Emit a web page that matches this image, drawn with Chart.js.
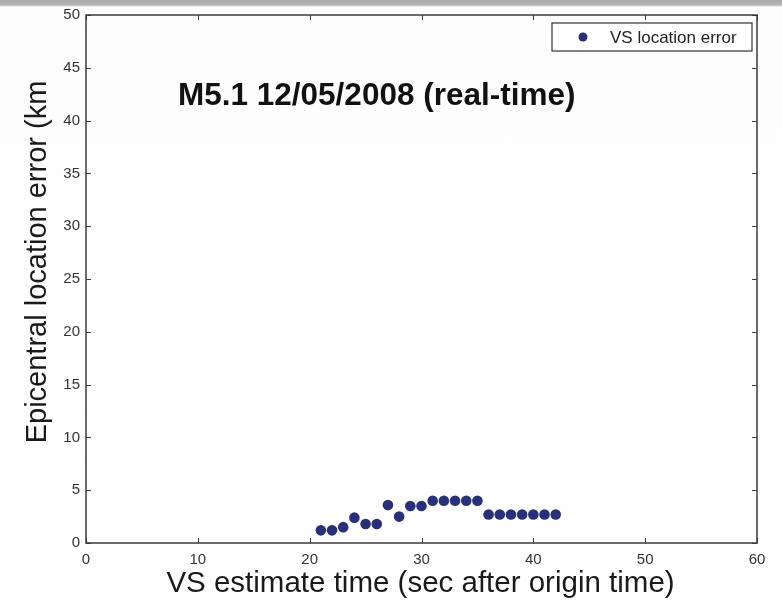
<!DOCTYPE html>
<html><head><meta charset="utf-8">
<script src="https://cdn.jsdelivr.net/npm/chart.js@4.4.1/dist/chart.umd.min.js"></script>
<style>
html,body{margin:0;padding:0;}
body{width:782px;height:604px;background:linear-gradient(to bottom,#a9a9a9 0px,#b4b4b4 5px,#fdfdfd 7px,#ffffff 100%);}
#wrap{width:782px;height:604px;position:relative;}
</style></head>
<body><div id="wrap"><canvas id="c" width="782" height="604"></canvas></div>
<script>
const estimateTimes = [21,22,23,24,25,26,27,28,29,30,31,32,33,34,35,36,37,38,39,40,41,42];
const locationErrors = [1.2,1.2,1.5,2.4,1.8,1.8,3.6,2.5,3.5,3.5,4.0,4.0,4.0,4.0,4.0,2.7,2.7,2.7,2.7,2.7,2.7,2.7];
const seriesLabel = 'VS location error';
const chartTitle = 'M5.1 12/05/2008 (real-time)';
const xTicks = [0,10,20,30,40,50,60];
const yTicks = [0,5,10,15,20,25,30,35,40,45,50];
const xTitle = 'VS estimate time (sec after origin time)';
const yTitle = 'Epicentral location error (km';

const FONT = "'Liberation Sans', Arial, sans-serif";
const dotColor = '#28307a';
const axisColor = '#3a3a3a';

const framePlugin = {
  id: 'frame',
  afterDatasetsDraw(chart) {
    const {ctx, chartArea: a, scales: {x, y}} = chart;
    ctx.save();
    ctx.strokeStyle = axisColor;
    ctx.lineWidth = 1.5;
    ctx.strokeRect(a.left, a.top, a.right - a.left, a.bottom - a.top);
    ctx.lineWidth = 1;
    const t = 5;
    ctx.beginPath();
    xTicks.forEach(v => {
      const px = Math.round(x.getPixelForValue(v)) + 0.5;
      ctx.moveTo(px, a.bottom); ctx.lineTo(px, a.bottom - t);
      ctx.moveTo(px, a.top); ctx.lineTo(px, a.top + t);
    });
    yTicks.forEach(v => {
      const py = Math.round(y.getPixelForValue(v)) + 0.5;
      ctx.moveTo(a.left, py); ctx.lineTo(a.left + t, py);
      ctx.moveTo(a.right, py); ctx.lineTo(a.right - t, py);
    });
    ctx.stroke();

    // title inside plot
    ctx.fillStyle = '#111';
    ctx.font = "bold 31.5px " + FONT;
    ctx.textAlign = 'left';
    ctx.textBaseline = 'middle';
    ctx.fillText(chartTitle, a.left + 92, a.top + 81);

    // legend box
    const bx = a.right - 205, by = a.top + 8, bw = 200, bh = 28;
    ctx.fillStyle = '#fff';
    ctx.fillRect(bx, by, bw, bh);
    ctx.strokeStyle = '#333';
    ctx.lineWidth = 1.2;
    ctx.strokeRect(bx, by, bw, bh);
    ctx.fillStyle = dotColor;
    ctx.beginPath();
    ctx.arc(bx + 31, by + 14, 4.5, 0, Math.PI * 2);
    ctx.fill();
    ctx.fillStyle = '#222';
    ctx.font = "17px " + FONT;
    ctx.fillText(chart.data.datasets[0].label, bx + 58, by + 15);

    // axis titles
    ctx.fillStyle = '#1a1a1a';
    ctx.font = "29.5px " + FONT;
    ctx.textAlign = 'center';
    ctx.fillText(xTitle, (a.left + a.right) / 2 - 1, a.bottom + 41);
    ctx.save();
    ctx.font = "29px " + FONT;
    ctx.translate(38, 262);
    ctx.rotate(-Math.PI / 2);
    ctx.fillText(yTitle, 0, 0);
    ctx.restore();
    ctx.restore();
  }
};

new Chart(document.getElementById('c'), {
  type: 'scatter',
  data: {
    datasets: [{
      label: seriesLabel,
      data: estimateTimes.map((t, i) => ({x: t, y: locationErrors[i]})),
      backgroundColor: dotColor,
      borderColor: dotColor,
      pointRadius: 5.3,
      pointHoverRadius: 5.3,
      borderWidth: 0
    }]
  },
  options: {
    responsive: false,
    animation: false,
    devicePixelRatio: 1,
    layout: {padding: {top: 14, right: 25, left: 0, bottom: 0}},
    plugins: {legend: {display: false}, tooltip: {enabled: false}},
    scales: {
      x: {
        type: 'linear', min: 0, max: 60,
        afterBuildTicks: s => { s.ticks = xTicks.map(v => ({value: v})); },
        afterFit: s => { s.height = 61; },
        grid: {display: false, drawTicks: false},
        border: {display: false},
        ticks: {color: '#333', font: {family: FONT, size: 15}, padding: 8, maxRotation: 0}
      },
      y: {
        type: 'linear', min: 0, max: 50,
        afterBuildTicks: s => { s.ticks = yTicks.map(v => ({value: v})); },
        afterFit: s => { s.width = 86; },
        grid: {display: false, drawTicks: false},
        border: {display: false},
        ticks: {color: '#333', font: {family: FONT, size: 15}, padding: 6}
      }
    }
  },
  plugins: [framePlugin]
});
</script></body></html>
